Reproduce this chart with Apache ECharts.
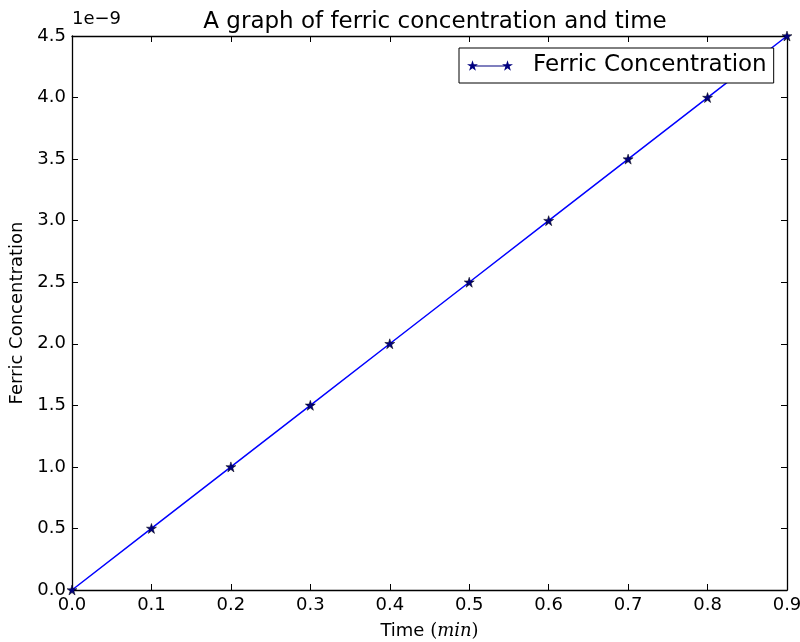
<!DOCTYPE html>
<html>
<head>
<meta charset="utf-8">
<script src="https://cdn.jsdelivr.net/npm/echarts@6/dist/echarts.min.js"></script>
<style>
  html, body { margin: 0; padding: 0; background: #fff; }
  #chart { width: 800px; height: 642px; }
</style>
</head>
<body>
<div id="chart"></div>
<script>
// Time in minutes and the measured ferric concentration at each time
const timeMin = [0.0, 0.1, 0.2, 0.3, 0.4, 0.5, 0.6, 0.7, 0.8, 0.9];
const ferricConc = [0.0, 0.5e-9, 1.0e-9, 1.5e-9, 2.0e-9, 2.5e-9, 3.0e-9, 3.5e-9, 4.0e-9, 4.5e-9];
const titleText = 'A graph of ferric concentration and time';
const seriesName = 'Ferric Concentration';
const yOffsetText = '1e\u22129';

const FONT = 'DejaVu Sans';
const SERIF = 'DejaVu Serif';
const chart = echarts.init(document.getElementById('chart'), null, { renderer: 'canvas' });

// five-pointed star used for the markers
const STAR = 'path://M50,0 L61.8,35.5 L100,35.5 L69,57.5 L80.9,95 L50,72 L19.1,95 L31,57.5 L0,35.5 L38.2,35.5 Z';
// legend sample: a short line with a star at each end
const LEGEND_ICON = 'path://' +
  'M5.5,0 L6.8,3.9 L11,3.9 L7.59,6.33 L8.9,10.45 L5.5,7.92 L2.1,10.45 L3.41,6.33 L0,3.9 L4.2,3.9 Z ' +
  'M40.5,0 L41.8,3.9 L46,3.9 L42.59,6.33 L43.9,10.45 L40.5,7.92 L37.1,10.45 L38.41,6.33 L35,3.9 L39.2,3.9 Z ' +
  'M5.5,5.1 L40.5,5.1 L40.5,6.3 L5.5,6.3 Z';

const tickStyle = { show: true, inside: true, length: 6, lineStyle: { color: '#000', width: 1 } };
const lineStyle = { show: true, onZero: false, lineStyle: { color: '#000', width: 1.3 } };
const tickFont = { fontFamily: FONT, fontSize: 18, color: '#000' };

chart.setOption({
  animation: false,
  backgroundColor: '#fff',
  title: {
    text: titleText,
    left: 430, top: 6, textAlign: 'center',
    textStyle: { fontFamily: FONT, fontSize: 23, fontWeight: 'normal', color: '#000' }
  },
  graphic: [{
    type: 'text', left: 72, top: 10,
    style: { text: yOffsetText, fontFamily: FONT, fontSize: 18, fill: '#000' }
  }],
  legend: {
    left: 459, top: 48,
    padding: [6, 7, 6, 8],
    borderColor: '#000', borderWidth: 1,
    backgroundColor: '#fff',
    icon: LEGEND_ICON,
    itemWidth: 46, itemHeight: 10.5,
    textStyle: { fontFamily: FONT, fontSize: 23, color: '#000', padding: [0, 0, 0, 15] },
    data: [{ name: seriesName, itemStyle: { color: '#00007f', borderColor: '#00007f', borderWidth: 0 } }]
  },
  grid: { left: 72, right: 13, top: 36, bottom: 52, outerBoundsMode: 'none', containLabel: false },
  xAxis: [{
    type: 'value', min: 0, max: 0.9, interval: 0.1,
    name: 'Time {p|(}{i|min}{p|)}',
    nameLocation: 'middle', nameGap: 32,
    nameTextStyle: {
      fontFamily: FONT, fontSize: 18, color: '#000',
      rich: {
        p: { fontFamily: SERIF, fontSize: 18, color: '#000' },
        i: { fontFamily: SERIF, fontStyle: 'italic', fontSize: 18, color: '#000' }
      }
    },
    axisLine: lineStyle, axisTick: tickStyle, splitLine: { show: false },
    axisLabel: Object.assign({ margin: 6, formatter: v => v.toFixed(1) }, tickFont)
  }, {
    type: 'value', min: 0, max: 0.9, interval: 0.1, position: 'top',
    axisLine: lineStyle, axisTick: tickStyle, splitLine: { show: false },
    axisLabel: { show: false }
  }],
  yAxis: [{
    type: 'value', min: 0, max: 4.5e-9, interval: 0.5e-9,
    name: seriesName,
    nameLocation: 'middle', nameGap: 42,
    nameTextStyle: { fontFamily: FONT, fontSize: 18, color: '#000' },
    axisLine: lineStyle, axisTick: tickStyle, splitLine: { show: false },
    axisLabel: Object.assign({ margin: 6, formatter: v => (v * 1e9).toFixed(1) }, tickFont)
  }, {
    type: 'value', min: 0, max: 4.5e-9, interval: 0.5e-9, position: 'right',
    axisLine: lineStyle, axisTick: tickStyle, splitLine: { show: false },
    axisLabel: { show: false }
  }],
  series: [{
    name: seriesName,
    type: 'line',
    xAxisIndex: 0, yAxisIndex: 0,
    data: timeMin.map((t, i) => [t, ferricConc[i]]),
    symbol: STAR,
    symbolSize: 10,
    showAllSymbol: true,
    clip: false,
    lineStyle: { color: '#0000ff', width: 1.5 },
    itemStyle: { color: '#00007f', borderColor: '#000', borderWidth: 0.5 }
  }]
});
</script>
</body>
</html>
